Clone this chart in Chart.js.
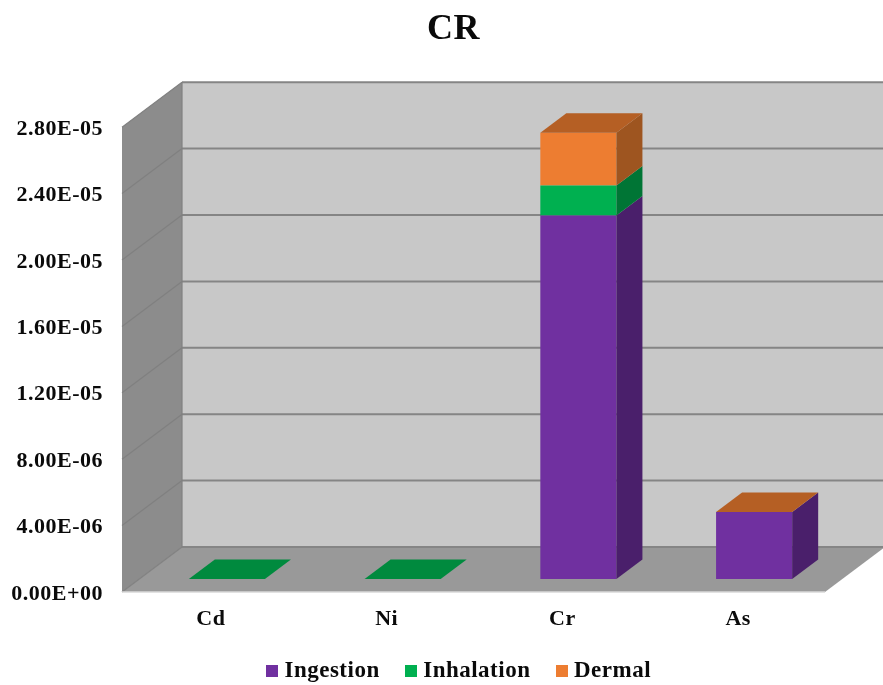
<!DOCTYPE html>
<html>
<head>
<meta charset="utf-8">
<title>CR</title>
<script src="https://cdn.jsdelivr.net/npm/chart.js@4"></script>
<style>
    html, body { margin: 0; padding: 0; background: #fff; }
    canvas { display: block; }
</style>
</head>
<body>
<canvas id="crChart" width="883" height="685"></canvas>
<script>
const categories = ['Cd', 'Ni', 'Cr', 'As'];
const ingestion = [0, 0, 2.19e-5, 4.03e-6];
const inhalation = [5e-9, 5e-9, 1.81e-6, 0];
const dermal = [0, 0, 3.17e-6, 5e-9];
const yTickLabels = ['0.00E+00', '4.00E-06', '8.00E-06', '1.20E-05', '1.60E-05', '2.00E-05', '2.40E-05', '2.80E-05'];

const frontColors = ['#7030A0', '#00B050', '#ED7D31'];
const sideColors = ['#4A1F6B', '#007535', '#9E5520'];
const topColors = ['#7030A0', '#008A3E', '#B55F24'];

const fontFamily = '"Liberation Serif", "Times New Roman", serif';
const textColor = '#0a0a0a';

// depth of the box, and where the bars sit inside it
const wallDx = 60, wallDy = 45;
const barShiftX = 17, barShiftY = 13;
const barDx = 26, barDy = 19.5;

function fillPoly(ctx, color, pts) {
    ctx.fillStyle = color;
    ctx.beginPath();
    ctx.moveTo(pts[0][0], pts[0][1]);
    for (let i = 1; i < pts.length; i++) {
        ctx.lineTo(pts[i][0], pts[i][1]);
    }
    ctx.closePath();
    ctx.fill();
}

function strokeLine(ctx, color, width, x1, y1, x2, y2) {
    ctx.strokeStyle = color;
    ctx.lineWidth = width;
    ctx.beginPath();
    ctx.moveTo(x1, y1);
    ctx.lineTo(x2, y2);
    ctx.stroke();
}

// legend marker as an image, so the gap to the text can be tighter than the default
function legendSwatch(color) {
    const c = document.createElement('canvas');
    c.width = 12;
    c.height = 12;
    const g = c.getContext('2d');
    g.fillStyle = color;
    g.fillRect(0, 0, 12, 12);
    return c;
}

const box3d = {
    id: 'box3d',
    beforeLayout(chart) {
        chart.ctx.letterSpacing = '0.5px';
    },
    afterLayout(chart) {
        // title and legend are centred a bit to the right of the plot box
        chart.titleBlock.left += 41;
        chart.titleBlock.right += 41;
        chart.legend.left += 49;
        chart.legend.right += 49;
    },
    beforeDraw(chart) {
        chart.ctx.letterSpacing = '0.5px';
    },
    beforeDatasetsDraw(chart) {
        const ctx = chart.ctx;
        const { left, right, top, bottom } = chart.chartArea;
        const yScale = chart.scales.y;

        fillPoly(ctx, '#C8C8C8', [[left + wallDx, top - wallDy], [right + wallDx, top - wallDy], [right + wallDx, bottom - wallDy], [left + wallDx, bottom - wallDy]]);
        fillPoly(ctx, '#8C8C8C', [[left, top], [left + wallDx, top - wallDy], [left + wallDx, bottom - wallDy], [left, bottom]]);
        fillPoly(ctx, '#999999', [[left, bottom], [left + wallDx, bottom - wallDy], [right + wallDx, bottom - wallDy], [right, bottom]]);

        yScale.ticks.forEach((tick, i) => {
            const y = yScale.getPixelForTick(i);
            strokeLine(ctx, '#858585', 2, left + wallDx, y - wallDy, right + wallDx, y - wallDy);
            strokeLine(ctx, '#808080', 1.2, left, y, left + wallDx, y - wallDy);
        });
        strokeLine(ctx, '#808080', 1.2, left + wallDx, top - wallDy, left + wallDx, bottom - wallDy);
        strokeLine(ctx, '#D8D8D8', 1.5, left, bottom, right, bottom);

        ctx.save();
        ctx.translate(barShiftX, -barShiftY);
    },
    afterDatasetsDraw(chart) {
        const ctx = chart.ctx;
        categories.forEach((cat, c) => {
            let topIndex = -1;
            chart.data.datasets.forEach((ds, d) => {
                if (ds.data[c] > 0) {
                    topIndex = d;
                }
            });
            chart.data.datasets.forEach((ds, d) => {
                if (ds.data[c] <= 0) {
                    return;
                }
                const bar = chart.getDatasetMeta(d).data[c];
                const xl = bar.x - bar.width / 2;
                const xr = bar.x + bar.width / 2;
                fillPoly(ctx, sideColors[d], [[xr, bar.y], [xr + barDx, bar.y - barDy], [xr + barDx, bar.base - barDy], [xr, bar.base]]);
                if (d === topIndex) {
                    fillPoly(ctx, topColors[d], [[xl, bar.y], [xl + barDx, bar.y - barDy], [xr + barDx, bar.y - barDy], [xr, bar.y]]);
                }
            });
        });
        ctx.restore();
    }
};

new Chart(document.getElementById('crChart'), {
    type: 'bar',
    plugins: [box3d],
    data: {
        labels: categories,
        datasets: [
            { label: 'Ingestion', data: ingestion, backgroundColor: frontColors[0] },
            { label: 'Inhalation', data: inhalation, backgroundColor: frontColors[1] },
            { label: 'Dermal', data: dermal, backgroundColor: frontColors[2] }
        ]
    },
    options: {
        responsive: false,
        animation: false,
        layout: { padding: { right: 58 } },
        categoryPercentage: 1,
        barPercentage: 0.433,
        plugins: {
            tooltip: { enabled: false },
            title: {
                display: true,
                text: 'CR',
                color: textColor,
                font: { family: fontFamily, size: 36, weight: 'bold' },
                padding: { top: 8, bottom: 76 }
            },
            legend: {
                position: 'bottom',
                maxHeight: 56.5,
                labels: {
                    color: textColor,
                    font: { family: fontFamily, size: 23, weight: 'bold' },
                    usePointStyle: true,
                    pointStyleWidth: 1,
                    padding: 31,
                    generateLabels(chart) {
                        const items = Chart.defaults.plugins.legend.labels.generateLabels(chart);
                        items.forEach((item, i) => {
                            item.pointStyle = legendSwatch(frontColors[i]);
                        });
                        return items;
                    }
                }
            }
        },
        scales: {
            x: {
                stacked: true,
                afterFit(scale) { scale.height = 36.5; },
                grid: { display: false, drawTicks: false },
                border: { display: false },
                ticks: {
                    color: textColor,
                    padding: 14,
                    labelOffset: 1,
                    maxRotation: 0,
                    font: { family: fontFamily, size: 22, weight: 'bold' }
                }
            },
            y: {
                stacked: true,
                min: 0,
                max: 2.8e-5,
                afterFit(scale) { scale.width = 122; },
                grid: { display: false, drawTicks: false },
                border: { display: false },
                ticks: {
                    stepSize: 4e-6,
                    color: textColor,
                    padding: 19,
                    labelOffset: 2,
                    font: { family: fontFamily, size: 22, weight: 'bold' },
                    callback: (value, index) => yTickLabels[index]
                }
            }
        }
    }
});
</script>
</body>
</html>
